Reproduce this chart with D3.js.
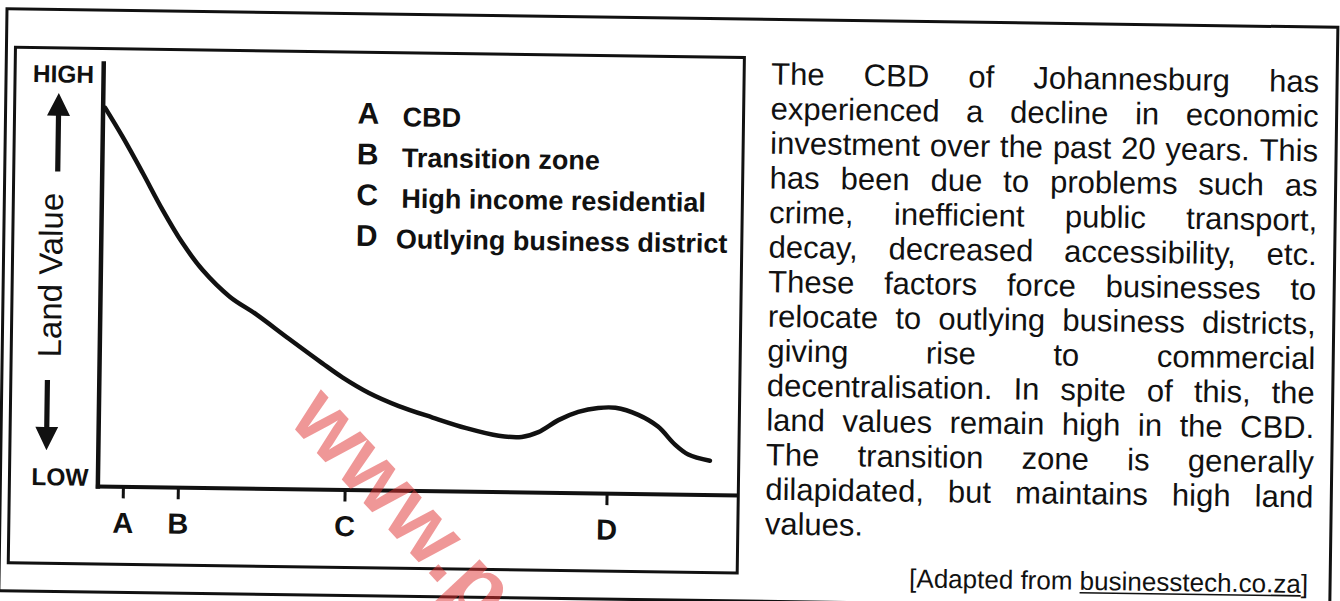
<!DOCTYPE html>
<html>
<head>
<meta charset="utf-8">
<script src="https://cdn.jsdelivr.net/npm/d3@7"></script>
<style>
  html, body { margin: 0; background: #fff; }
  svg { display: block; }
</style>
</head>
<body>
<svg id="chart" width="1340" height="601"></svg>
<script>
/* ---------- data ---------- */
const zones = ['A', 'B', 'C', 'D'];
const zoneDistance = [4.0, 12.6, 38.7, 79.7];
const zoneNames = ['CBD', 'Transition zone', 'High income residential', 'Outlying business district'];

const curveDistance = [0.4, 3.2, 6.4, 9.6, 12.8, 16, 20.3, 24.5, 29.6, 34.9, 38.1, 42.3, 47, 52.3,
  57.6, 62.7, 66.3, 68.9, 72, 75.1, 78.2, 80.9, 84.5, 87.6, 90.3, 92.4, 95.8];
const landValue = [89.4, 82.6, 74.2, 65.5, 57.7, 51.4, 45.2, 41.1, 35.5, 29.8, 26.5, 22.9, 19.9, 17.3,
  14.9, 13.2, 13.0, 14.2, 17.1, 19.1, 20.1, 20.2, 18.6, 15.9, 11.7, 9.4, 8.0];

const valueLabels = ['LOW', 'HIGH'];
const axisTitle = 'Land Value';

const paragraphLines = [
  'The CBD of Johannesburg has',
  'experienced a decline in economic',
  'investment over the past 20 years. This',
  'has been due to problems such as',
  'crime, inefficient public transport,',
  'decay, decreased accessibility, etc.',
  'These factors force businesses to',
  'relocate to outlying business districts,',
  'giving rise to commercial',
  'decentralisation. In spite of this, the',
  'land values remain high in the CBD.',
  'The transition zone is generally',
  'dilapidated, but maintains high land',
  'values.'
];
const sourceParts = ['[Adapted from ', 'businesstech.co.za', ']'];
const watermark = 'www.p';

/* ---------- setup ---------- */
const FONT = '"Liberation Sans", Arial, Helvetica, sans-serif';
const INK = '#111';
const svg = d3.select('#chart');

// the scan is tilted slightly clockwise
const page = svg.append('g').attr('transform', 'rotate(0.8,670,300)');

const measure = svg.append('text')
  .attr('font-family', FONT)
  .attr('visibility', 'hidden');
function textWidth(s, size, weight) {
  measure.attr('font-size', size).attr('font-weight', weight || 'normal').text(s);
  return measure.node().getComputedTextLength();
}

/* ---------- frames ---------- */
page.append('rect')
  .attr('x', 3).attr('y', 18).attr('width', 1331).attr('height', 582)
  .attr('fill', 'none').attr('stroke', INK).attr('stroke-width', 3);

page.append('rect')
  .attr('x', 12).attr('y', 56.5).attr('width', 729).attr('height', 515.5)
  .attr('fill', 'none').attr('stroke', INK).attr('stroke-width', 3);

/* ---------- scales + axes ---------- */
const x = d3.scaleLinear().domain([0, 100]).range([100, 739]);
const y = d3.scaleLinear().domain([0, 100]).range([494, 71]);

const xAxis = page.append('g')
  .attr('transform', `translate(0,${y(0)})`)
  .call(d3.axisBottom(x)
    .tickValues(zoneDistance)
    .tickFormat((d, i) => zones[i])
    .tickSize(12)
    .tickSizeOuter(0)
    .tickPadding(14));
xAxis.select('.domain')
  .attr('stroke', INK).attr('stroke-width', 4).attr('stroke-linecap', 'square');
xAxis.selectAll('.tick line').attr('stroke', INK).attr('stroke-width', 3);
xAxis.selectAll('.tick text')
  .attr('fill', INK)
  .attr('font-family', FONT)
  .attr('font-size', 29)
  .attr('font-weight', 'bold');

const yAxis = page.append('g')
  .attr('transform', `translate(${x(0)},0)`)
  .call(d3.axisLeft(y).tickValues([]).tickSizeOuter(0));
yAxis.select('.domain')
  .attr('stroke', INK).attr('stroke-width', 4.5).attr('stroke-linecap', 'square');

page.selectAll('.value-label')
  .data(valueLabels)
  .join('text')
  .attr('class', 'value-label')
  .attr('x', x(0) - 9)
  .attr('y', (d, i) => i === 0 ? y(0) : y(100) + 20)
  .attr('text-anchor', 'end')
  .attr('font-family', FONT)
  .attr('font-size', 24.5)
  .attr('font-weight', 'bold')
  .attr('fill', INK)
  .text(d => d);

/* ---------- axis title with arrows ---------- */
page.append('path')
  .attr('d', `M56,${y(92.8)} L67.5,${y(87.4)} L58.6,${y(87.4)} L58.6,${y(74.2)}
              L53.4,${y(74.2)} L53.4,${y(87.4)} L44.5,${y(87.4)} Z`)
  .attr('fill', INK);

page.append('path')
  .attr('d', `M48.6,${y(8.3)} L60,${y(13.8)} L51.2,${y(13.8)} L51.2,${y(24.9)}
              L46,${y(24.9)} L46,${y(13.8)} L37.2,${y(13.8)} Z`)
  .attr('fill', INK);

page.append('text')
  .attr('transform', `translate(61.6,${y(49.7)}) rotate(-90)`)
  .attr('text-anchor', 'middle')
  .attr('font-family', FONT)
  .attr('font-size', 33)
  .attr('fill', INK)
  .text(axisTitle);

/* ---------- land value curve ---------- */
const line = d3.line()
  .x(d => x(d[0]))
  .y(d => y(d[1]))
  .curve(d3.curveCatmullRom.alpha(0.5));

page.append('path')
  .datum(d3.zip(curveDistance, landValue))
  .attr('d', line)
  .attr('fill', 'none')
  .attr('stroke', INK)
  .attr('stroke-width', 4.5)
  .attr('stroke-linecap', 'round')
  .attr('stroke-linejoin', 'round');

/* ---------- key ---------- */
const key = page.append('g');
zones.forEach((z, i) => {
  const rowY = 128 + i * 40.7;
  key.append('text')
    .attr('x', 355).attr('y', rowY)
    .attr('font-family', FONT).attr('font-size', 30).attr('font-weight', 'bold')
    .attr('fill', INK)
    .text(z);
  key.append('text')
    .attr('x', i === 3 ? 395 : 400).attr('y', rowY + 2)
    .attr('font-family', FONT).attr('font-size', 27).attr('font-weight', 'bold')
    .attr('fill', INK)
    .text(zoneNames[i]);
});

/* ---------- justified paragraph ---------- */
const PARA_SIZE = 31;
const paraLeft = 768, paraRight = 1316;
const para = page.append('g')
  .attr('font-family', FONT)
  .attr('font-size', PARA_SIZE)
  .attr('fill', INK);

paragraphLines.forEach((ln, i) => {
  const words = ln.split(' ');
  const widths = words.map(w => textWidth(w, PARA_SIZE));
  const total = d3.sum(widths);
  const isLast = i === paragraphLines.length - 1;
  const gap = (isLast || words.length < 2)
    ? textWidth('a a', PARA_SIZE) - textWidth('aa', PARA_SIZE)
    : (paraRight - paraLeft - total) / (words.length - 1);
  let cx = paraLeft;
  const baseY = 83.2 + i * 34.6;
  words.forEach((w, j) => {
    para.append('text').attr('x', cx).attr('y', baseY).text(w);
    cx += widths[j] + gap;
  });
});

/* ---------- source ---------- */
const SRC_SIZE = 26;
const srcRight = 1312, srcY = 584;
const srcText = page.append('text')
  .attr('x', srcRight).attr('y', srcY)
  .attr('text-anchor', 'end')
  .attr('font-family', FONT)
  .attr('font-size', SRC_SIZE)
  .attr('fill', INK);
sourceParts.forEach(p => srcText.append('tspan').text(p));

const wClose = textWidth(sourceParts[2], SRC_SIZE);
const wLink = textWidth(sourceParts[1], SRC_SIZE);
page.append('line')
  .attr('x1', srcRight - wClose - wLink).attr('x2', srcRight - wClose)
  .attr('y1', srcY + 3).attr('y2', srcY + 3)
  .attr('stroke', INK).attr('stroke-width', 1.6);

/* ---------- watermark (sits on top of the scan) ---------- */
svg.append('text')
  .attr('transform', 'translate(287,421) rotate(47)')
  .attr('font-family', FONT)
  .attr('font-size', 88)
  .attr('font-weight', 'bold')
  .attr('fill', 'rgb(224,48,48)')
  .attr('fill-opacity', 0.5)
  .text(watermark);

measure.remove();
</script>
</body>
</html>
